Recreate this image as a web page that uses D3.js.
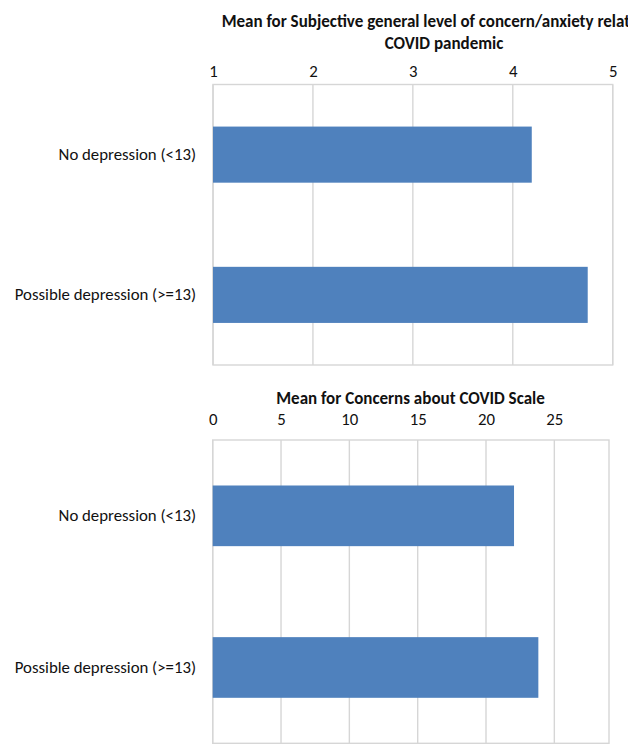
<!DOCTYPE html>
<html>
<head>
<meta charset="utf-8">
<script src="https://cdn.jsdelivr.net/npm/d3@7"></script>
<style>
  html, body { margin: 0; padding: 0; background: #fff; }
  svg { display: block; }
  text { font-family: Carlito, Calibri, Lato, "Open Sans", sans-serif; fill: #111; }
</style>
</head>
<body>
<svg id="chart" width="628" height="747"></svg>
<script>
// Groups shown on both panels
const categories = ["No depression (<13)", "Possible depression (>=13)"];

// Panel 1: subjective concern/anxiety (1–5 scale)
const anxietyTitle = ["Mean for Subjective general level of concern/anxiety related to", "COVID pandemic"];
const anxietyValues = [4.19, 4.75];
const anxietyTicks = [1, 2, 3, 4, 5];

// Panel 2: Concerns about COVID Scale
const concernTitle = ["Mean for Concerns about COVID Scale"];
const concernValues = [22.05, 23.83];
const concernTicks = [0, 5, 10, 15, 20, 25];

const svg = d3.select("#chart");
const barColor = "#4F81BD";
const gridColor = "#D6D6D6";
const labelSize = 16.8;
const titleSize = 17;

function panel(cfg) {
  const g = svg.append("g");
  const x = d3.scaleLinear().domain(cfg.domain).range([cfg.left, cfg.right]);
  const y = d3.scaleBand().domain(categories).range([cfg.top, cfg.bottom])
    .paddingInner(0.6).paddingOuter(0.3);

  // vertical gridlines
  g.selectAll("line.grid").data(cfg.ticks).join("line")
    .attr("class", "grid")
    .attr("x1", d => x(d)).attr("x2", d => x(d))
    .attr("y1", cfg.top).attr("y2", cfg.bottom)
    .attr("stroke", gridColor).attr("stroke-width", 1.4);

  // plot frame
  g.append("rect")
    .attr("x", cfg.left).attr("y", cfg.top)
    .attr("width", cfg.right - cfg.left).attr("height", cfg.bottom - cfg.top)
    .attr("fill", "none").attr("stroke", gridColor).attr("stroke-width", 1.4);

  // bars
  g.selectAll("rect.bar").data(cfg.values).join("rect")
    .attr("class", "bar")
    .attr("x", x(cfg.domain[0]))
    .attr("y", (d, i) => y(categories[i]))
    .attr("width", d => x(d) - x(cfg.domain[0]))
    .attr("height", y.bandwidth())
    .attr("fill", barColor);

  // top axis labels
  const axis = d3.axisTop(x).tickValues(cfg.ticks).tickSize(0).tickPadding(0).tickFormat(d3.format("d"));
  const ax = g.append("g").attr("transform", `translate(0,${cfg.tickY})`).call(axis);
  ax.select(".domain").remove();
  ax.selectAll("text")
    .attr("font-size", labelSize).attr("fill", "#111")
    .attr("font-family", "Carlito, Calibri, Lato, sans-serif")
    .attr("dy", 0);

  // category labels
  const ay = d3.axisLeft(y).tickSize(0).tickPadding(0);
  const yl = g.append("g").attr("transform", `translate(196,0)`).call(ay);
  yl.select(".domain").remove();
  yl.selectAll("text")
    .attr("font-size", labelSize).attr("fill", "#111")
    .attr("font-family", "Carlito, Calibri, Lato, sans-serif");

  // title
  g.selectAll("text.title").data(cfg.title).join("text")
    .attr("class", "title")
    .attr("x", cfg.titleX)
    .attr("y", (d, i) => cfg.titleY + i * 22)
    .attr("text-anchor", "middle")
    .attr("font-size", titleSize).attr("font-weight", "bold")
    .text(d => d);
}

panel({
  title: anxietyTitle, values: anxietyValues, ticks: anxietyTicks,
  domain: [1, 5], left: 213, right: 612.7, top: 84.5, bottom: 365,
  tickY: 76.5, titleX: 444, titleY: 27
});

panel({
  title: concernTitle, values: concernValues, ticks: concernTicks,
  domain: [0, 29], left: 212.7, right: 609, top: 440, bottom: 743.3,
  tickY: 425, titleX: 410.5, titleY: 404
});
</script>
</body>
</html>
